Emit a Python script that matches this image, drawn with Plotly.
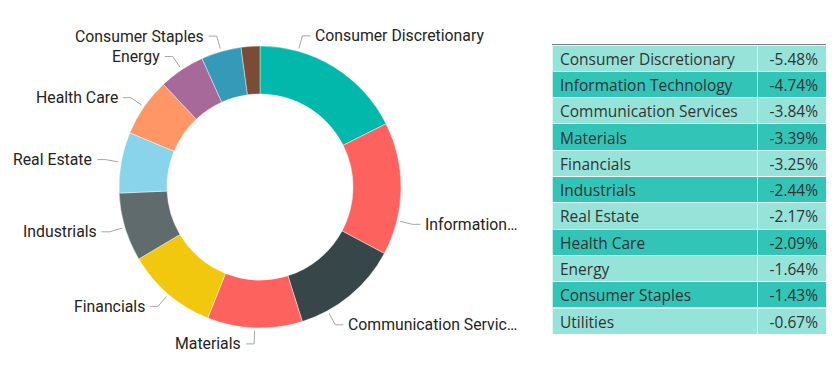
import math
import plotly.graph_objects as go

# ---------------- data ----------------
sectors = ["Consumer Discretionary", "Information Technology", "Communication Services",
           "Materials", "Financials", "Industrials", "Real Estate", "Health Care",
           "Energy", "Consumer Staples", "Utilities"]
changes = [-5.48, -4.74, -3.84, -3.39, -3.25, -2.44, -2.17, -2.09, -1.64, -1.43, -0.67]
chart_labels = ["Consumer Discretionary", "Information\u2026", "Communication Servic\u2026",
                "Materials", "Financials", "Industrials", "Real Estate", "Health Care",
                "Energy", "Consumer Staples", ""]
table_text = [f"{v:.2f}%" for v in changes]

# ---------------- styles ----------------
slice_colors = ["#01B8AA", "#FD625E", "#374649", "#FD625E", "#F2C80F", "#5F6B6D",
                "#8AD4EB", "#FE9666", "#A66999", "#3599B8", "#7A4B35"]
label_angle_shift = [-16, 13, 11, 0, 0, 0, 0, 0, 0, 0, 0]  # label collision offsets (deg)
row_light, row_dark = "#96E3DA", "#33C4B8"

OFF = 8  # page body margin
W, H = 835 - OFF, 372 - OFF
cx, cy, R = 260, 187, 141
hole = 0.66

def px(x):
    return (x - OFF) / W

def py(y):
    return 1 - (y - OFF) / H

sizes = [abs(v) for v in changes]
total = sum(sizes)

fig = go.Figure()
fig.add_trace(go.Pie(
    labels=sectors, values=sizes, sort=False, direction="clockwise", rotation=0,
    hole=hole, textinfo="none", hoverinfo="label+value",
    marker=dict(colors=slice_colors, line=dict(color="rgba(255,255,255,0.6)", width=0.7)),
    domain=dict(x=[px(cx - R), px(cx + R)], y=[py(cy + R), py(cy - R)]),
    showlegend=False,
))

# leader lines and labels
shapes = []
annotations = []
cum = 0.0
for lab, s, shift in zip(chart_labels, sizes, label_angle_shift):
    mid = (cum + s / 2) / total * 360 + shift
    cum += s
    if not lab:
        continue
    a = math.radians(mid)
    sx, sy = cx + (R + 3) * math.sin(a), cy - (R + 3) * math.cos(a)
    ex, ey = cx + (R + 16) * math.sin(a), cy - (R + 16) * math.cos(a)
    right = math.sin(a) >= 0
    hx = ex + (8 if right else -8)
    shapes.append(dict(type="path", xref="paper", yref="paper",
                       path=f"M {px(sx)},{py(sy)} L {px(ex)},{py(ey)} L {px(hx)},{py(ey)}",
                       line=dict(color="#A6A6A6", width=1)))
    annotations.append(dict(x=px(hx + (3 if right else -3)), y=py(ey), xref="paper", yref="paper",
                            text=lab, showarrow=False, xanchor="left" if right else "right",
                            yanchor="middle", font=dict(family="Roboto", size=15.8, color="#252423")))

# table
row_h = 26.3
fill = [row_light if i % 2 == 0 else row_dark for i in range(len(sectors))]
tx0, tx1, ty0 = 552, 826, 44
fig.add_trace(go.Table(
    domain=dict(x=[px(tx0), px(tx1)], y=[py(ty0 + row_h * 11 + 5), py(ty0)]),
    columnwidth=[205, 69],
    header=dict(values=["", ""], height=1, fill_color="#7F7F7F", line=dict(width=0)),
    cells=dict(values=[sectors, table_text], height=row_h,
               fill_color=[fill, fill], align=["left", "right"],
               line=dict(color="rgba(255,255,255,0.7)", width=1),
               font=dict(family="Open Sans", size=15.5, color="#333333")),
))

fig.update_layout(width=W, height=H, margin=dict(l=0, r=0, t=0, b=0),
                  paper_bgcolor="white", plot_bgcolor="white",
                  shapes=shapes, annotations=annotations)
fig.write_html("out.html")
